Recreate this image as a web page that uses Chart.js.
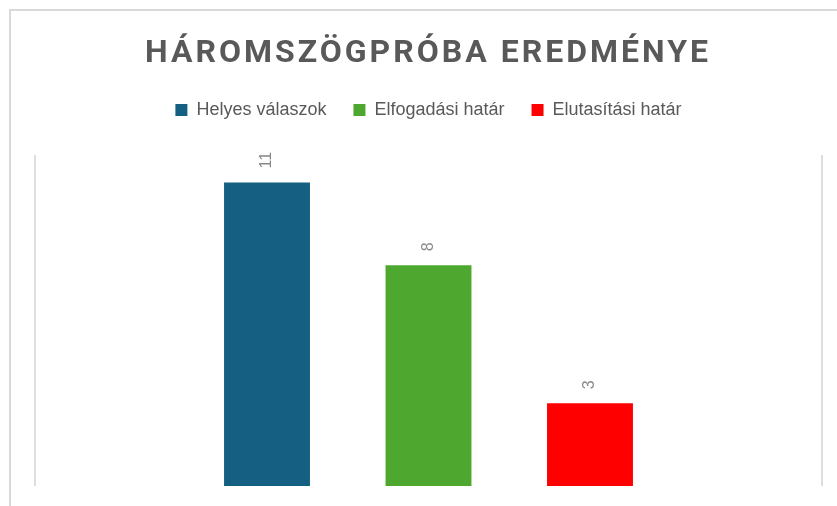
<!DOCTYPE html>
<html><head><meta charset="utf-8">
<script src="https://cdn.jsdelivr.net/npm/chart.js@4.4.1/dist/chart.umd.min.js"></script>
<style>html,body{margin:0;padding:0;background:#fff}#wrap{width:837px;height:506px;position:relative}</style>
</head><body><div id="wrap"><canvas id="c"></canvas></div>
<script>
const chartTitle = 'HÁROMSZÖGPRÓBA EREDMÉNYE';
const categories = ['Háromszögpróba'];
const seriesNames = ['Helyes válaszok', 'Elfogadási határ', 'Elutasítási határ'];
const seriesValues = [11, 8, 3];
const seriesColors = ['#156082', '#4EA72E', '#FF0000'];
const axisMin = 0;
const axisMax = 12;

const datasets = seriesNames.map((name, i) => ({
  label: name,
  data: [seriesValues[i]],
  backgroundColor: seriesColors[i],
  borderWidth: 0,
  categoryPercentage: 0.6156,
  barPercentage: 0.532
}));

const decorPlugin = {
  id: 'decor',
  beforeLayout(chart) {
    const lg = chart.legend;
    if (lg && !lg._patched) {
      const f = lg.fit;
      lg.fit = function () { f.call(this); this.height += 26; };
      lg._patched = true;
    }
  },
  beforeDraw(chart) {
    const ctx = chart.ctx;
    ctx.save();
    ctx.strokeStyle = '#d9d9d9';
    ctx.lineWidth = 2;
    ctx.beginPath();
    ctx.moveTo(10, chart.height);
    ctx.lineTo(10, 10);
    ctx.lineTo(chart.width, 10);
    ctx.stroke();
    ctx.restore();
  },
  afterDraw(chart) {
    const ctx = chart.ctx;
    ctx.save();
    ctx.font = 'bold 32px Roboto';
    ctx.letterSpacing = '3px';
    ctx.fillStyle = '#595959';
    ctx.textAlign = 'center';
    ctx.textBaseline = 'alphabetic';
    ctx.fillText(chartTitle, 428, 62);
    ctx.restore();
  },
  afterDatasetsDraw(chart) {
    const ctx = chart.ctx;
    ctx.save();
    ctx.font = '16px "Liberation Sans", Arial';
    ctx.fillStyle = '#898989';
    ctx.textAlign = 'left';
    ctx.textBaseline = 'middle';
    chart.data.datasets.forEach((ds, i) => {
      const meta = chart.getDatasetMeta(i);
      meta.data.forEach((el, j) => {
        ctx.save();
        ctx.translate(el.x, el.y - 14);
        ctx.rotate(-Math.PI / 2);
        ctx.fillText(String(ds.data[j]), 0, 0);
        ctx.restore();
      });
    });
    ctx.restore();
  }
};

new Chart(document.getElementById('c'), {
  type: 'bar',
  data: { labels: categories, datasets },
  options: {
    responsive: true,
    maintainAspectRatio: false,
    animation: false,
    layout: { padding: { top: 74, left: 35, right: 15, bottom: 20 } },
    plugins: {
      title: { display: false },
      tooltip: { enabled: false },
      legend: {
        position: 'top',
        labels: {
          boxWidth: 12,
          boxHeight: 12,
          padding: 27,
          color: '#595959',
          font: { family: '"Liberation Sans", Arial', size: 18 }
        }
      }
    },
    scales: {
      x: {
        display: true,
        grid: { display: true, offset: true, drawTicks: false, color: '#dedede', lineWidth: 2 },
        border: { display: false },
        ticks: { display: false }
      },
      y: {
        display: false,
        min: axisMin,
        max: axisMax
      }
    }
  },
  plugins: [decorPlugin]
});
</script>
</body></html>
